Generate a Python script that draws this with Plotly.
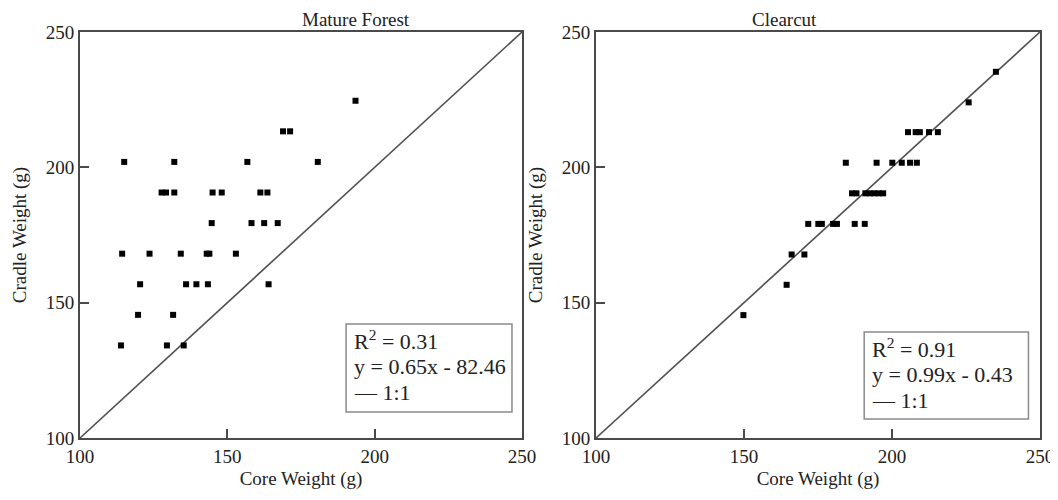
import plotly.graph_objects as go
from plotly.subplots import make_subplots

# ---- data ----
mature_core = [193.5,
               168.9, 171.3,
               115.0, 132.0, 156.8, 180.7,
               127.7, 129.2, 132.0, 145.0, 148.1, 161.2, 163.6,
               144.7, 158.2, 162.5, 167.1,
               114.3, 123.6, 134.2, 143.0, 143.9, 152.9,
               120.4, 136.0, 139.5, 143.4, 164.0,
               119.7, 131.6,
               113.9, 129.5, 135.2]
mature_cradle = [224.6,
                 213.3, 213.3,
                 202.0, 202.0, 202.0, 202.0,
                 190.7, 190.7, 190.7, 190.7, 190.7, 190.7, 190.7,
                 179.4, 179.4, 179.4, 179.4,
                 168.1, 168.1, 168.1, 168.1, 168.1, 168.1,
                 156.8, 156.8, 156.8, 156.8, 156.8,
                 145.5, 145.5,
                 134.2, 134.2, 134.2]

clear_core = [235.1,
              225.9,
              205.4, 208.0, 209.4, 212.5, 215.5,
              184.4, 194.8, 200.1, 203.3, 206.1, 208.4,
              186.5, 188.0, 191.0, 192.5, 194.0, 195.5, 197.0,
              171.7, 175.1, 176.3, 180.1, 181.4, 187.4, 190.8,
              166.1, 170.4,
              164.4,
              149.8]
clear_cradle = [235.3,
                224.0,
                213.0, 213.0, 213.0, 213.0, 213.0,
                201.7, 201.7, 201.7, 201.7, 201.7, 201.7,
                190.4, 190.4, 190.4, 190.4, 190.4, 190.4, 190.4,
                179.1, 179.1, 179.1, 179.1, 179.1, 179.1, 179.1,
                167.8, 167.8,
                156.6,
                145.4]

one_to_one = [100, 250]
tick_vals = [100, 150, 200, 250]
tick_text = ["100", "150", "200", "250"]
panel_titles = ["Mature Forest", "Clearcut"]
stats_text = [["R<sup>2</sup> = 0.31", "y = 0.65x - 82.46", "— 1:1"],
              ["R<sup>2</sup> = 0.91", "y = 0.99x - 0.43", "— 1:1"]]

FONT = "Liberation Serif, Times New Roman, serif"
AX = "#4a4a4a"

# the page body adds an 8px margin, so the figure is offset by 8px;
# keep the page from overflowing vertically (no scrollbar)
W, H, OFF = 1050, 482, 8

fig = make_subplots(rows=1, cols=2)

for i, (xs, ys) in enumerate([(mature_core, mature_cradle), (clear_core, clear_cradle)]):
    fig.add_trace(go.Scatter(x=one_to_one, y=one_to_one, mode="lines",
                             line=dict(color="#505050", width=1.6),
                             showlegend=False, hoverinfo="skip"), row=1, col=i + 1)
    fig.add_trace(go.Scatter(x=xs, y=ys, mode="markers",
                             marker=dict(symbol="square", size=6, color="black"),
                             showlegend=False), row=1, col=i + 1)

def px_x(p):
    return (p - OFF) / W

def px_y(p):
    return 1 - (p - OFF) / H

x_domains = [[px_x(80), px_x(522)], [px_x(596), px_x(1040)]]
y_domain = [px_y(438), px_y(32)]

axis_common = dict(range=[100, 250], tickvals=tick_vals, ticktext=tick_text,
                   ticks="inside", ticklen=9, tickwidth=1.5, tickcolor=AX,
                   showline=True, linecolor=AX, linewidth=2, mirror=True,
                   showgrid=False, zeroline=False, automargin=False,
                   tickfont=dict(family=FONT, size=19, color="#222"))

for i in range(2):
    fig.update_xaxes(axis_common, domain=x_domains[i],
                     title=dict(text="Core Weight (g)", standoff=7,
                                font=dict(family=FONT, size=19, color="#222")),
                     row=1, col=i + 1)
    fig.update_yaxes(axis_common, domain=y_domain,
                     title=dict(text="Cradle Weight (g)", standoff=14,
                                font=dict(family=FONT, size=19, color="#222")),
                     row=1, col=i + 1)

# titles
title_x = [(x_domains[0][0] + x_domains[0][1]) / 2, (x_domains[1][0] + x_domains[1][1]) / 2]
for i in range(2):
    fig.add_annotation(text=panel_titles[i], xref="paper", yref="paper",
                       x=title_x[i], y=y_domain[1], yanchor="bottom", yshift=1,
                       borderpad=0,
                       showarrow=False, font=dict(family=FONT, size=19, color="#222"))

# stats boxes
boxes = [dict(x0=190.3, x1=246.6, y0=109.6, y1=142.1),
         dict(x0=190.6, x1=246.1, y0=107.0, y1=139.2)]
for i in range(2):
    xr = "x" if i == 0 else "x2"
    yr = "y" if i == 0 else "y2"
    b = boxes[i]
    fig.add_shape(type="rect", xref=xr, yref=yr, x0=b["x0"], x1=b["x1"],
                  y0=b["y0"], y1=b["y1"], line=dict(color="#8a8a8a", width=1.5),
                  fillcolor="white", layer="above")
    for j, t in enumerate(stats_text[i]):
        fig.add_annotation(text=t, xref=xr, yref=yr, x=b["x0"] + 2.0,
                           y=b["y1"] - 6.0 - j * 9.6, xanchor="left", yanchor="middle",
                           showarrow=False, font=dict(family=FONT, size=22, color="#222"))

fig.update_layout(width=W, height=H, margin=dict(l=0, r=0, t=0, b=0),
                  plot_bgcolor="white", paper_bgcolor="white", showlegend=False)

fig.write_html("out.html")
